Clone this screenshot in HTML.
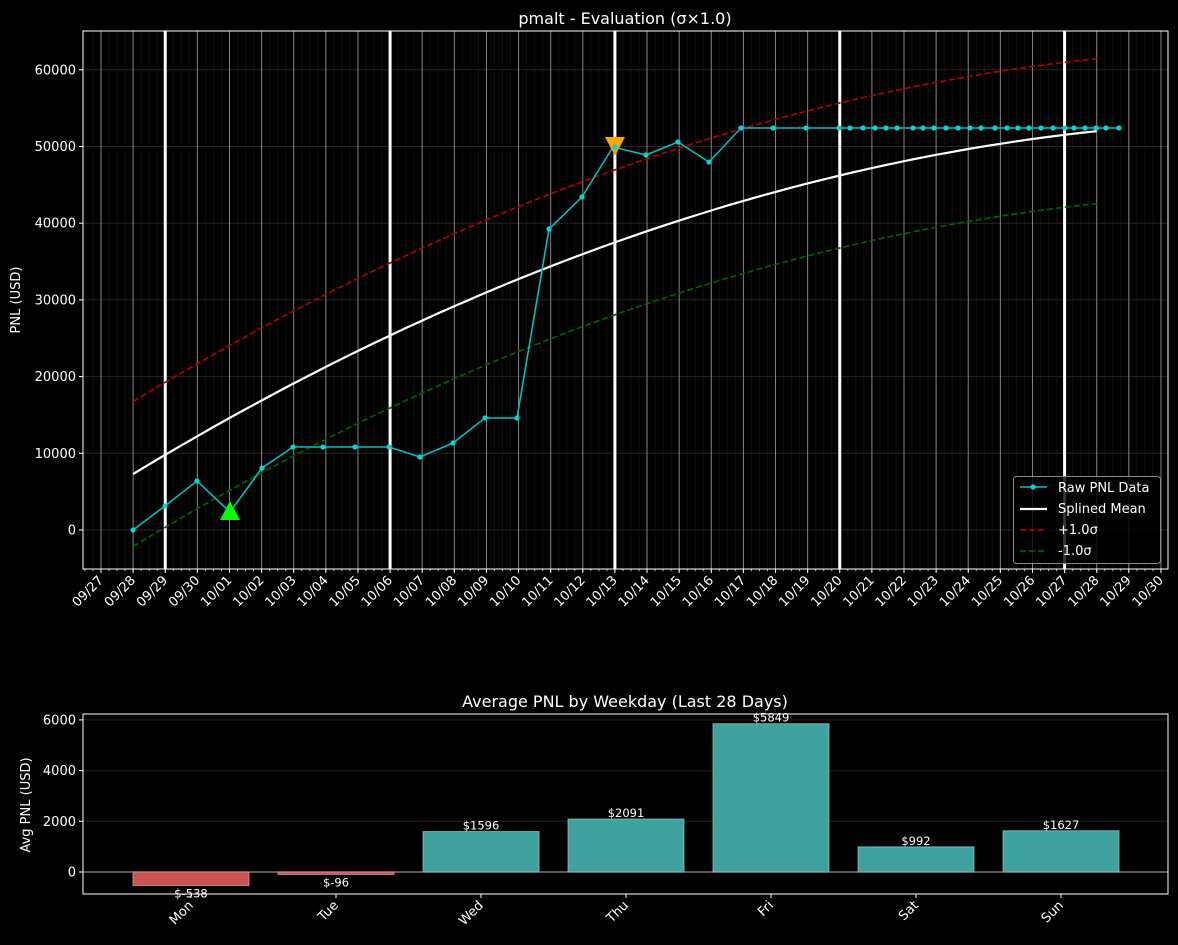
<!DOCTYPE html>
<html><head><meta charset="utf-8"><style>
html,body{margin:0;padding:0;background:#000;}
svg{display:block;font-family:"DejaVu Sans","Liberation Sans",sans-serif;}
</style></head><body>
<svg id="s" width="1178" height="945" viewBox="0 0 1178 945" xmlns="http://www.w3.org/2000/svg">
<rect width="1178" height="945" fill="#000"/>
<g id="top"></g>
<g id="bot"></g>
</svg>
<script>
const NS="http://www.w3.org/2000/svg";
function el(p,tag,a,txt){const e=document.createElementNS(NS,tag);for(const k in a)e.setAttribute(k,a[k]);if(txt!==undefined)e.textContent=txt;p.appendChild(e);return e;}
const T=document.getElementById('top');
const L=83,R=1168,TOP=31,BOT=569;
const X=d=>101+d*32.12;
const Y=v=>530-v*0.00767;
for(let d=-0.5;d<=33.5;d+=0.25){const x=X(d);if(x<L||x>R)continue;el(T,'line',{x1:x,x2:x,y1:TOP,y2:BOT,stroke:'#0f0f0f','stroke-width':1});}
for(let v=0;v<=60000;v+=10000){el(T,'line',{x1:L,x2:R,y1:Y(v),y2:Y(v),stroke:'#262626','stroke-width':1});}
for(let d=0;d<=33;d++){const x=X(d);el(T,'line',{x1:x,x2:x,y1:TOP,y2:BOT,stroke:'#aaa','stroke-width':1,opacity:0.75});}
[2,9,16,23,30].forEach(d=>{const x=X(d);el(T,'line',{x1:x,x2:x,y1:TOP,y2:BOT,stroke:'#fff','stroke-width':3});});
const m=t=>7300+2537*t-34.9*t*t;
let pm='',pp='',pn='';
for(let t=0;t<=30;t+=0.5){const x=X(t+1);pm+=(t?'L':'M')+x.toFixed(1)+','+Y(m(t)).toFixed(1);pp+=(t?'L':'M')+x.toFixed(1)+','+Y(m(t)+9450).toFixed(1);pn+=(t?'L':'M')+x.toFixed(1)+','+Y(m(t)-9450).toFixed(1);}
el(T,'path',{d:pp,fill:'none',stroke:'#b00000','stroke-width':1.7,'stroke-dasharray':'6,3'});
el(T,'path',{d:pn,fill:'none',stroke:'#006000','stroke-width':1.7,'stroke-dasharray':'6,3'});
el(T,'path',{d:pm,fill:'none',stroke:'#fff','stroke-width':2.2});
const pts=[[133,530],[165,506],[197,481],[230,512],[262,468],[293,447],[323,447],[355,447],[389,447],[420,457],[453,443],[485,418],[517,418],[549,229],[582,197],[613,147],[646,155],[678,142],[709,162],[741,128],[773,128],[806,128],[839,128],[850,128],[863,128],[875,128],[886,128],[897,128],[913,128],[923,128],[934,128],[946,128],[958,128],[970,128],[981,128],[995,128],[1007,128],[1018,128],[1029,128],[1041,128],[1053,128],[1065,128],[1074,128],[1085,128],[1096,128],[1106,128],[1119,128]];
el(T,'polyline',{points:pts.map(p=>p.join(',')).join(' '),fill:'none',stroke:'#00c0c0','stroke-width':1.6});
pts.forEach(p=>el(T,'circle',{cx:p[0],cy:p[1],r:2.6,fill:'#00d8d8'}));
el(T,'polygon',{points:'230,501 220,520 240,520',fill:'#00ff00'});
el(T,'polygon',{points:'605,137 625,137 615,156',fill:'#ffa500'});
el(T,'circle',{cx:615,cy:147,r:2.6,fill:'#00d8d8'});
el(T,'rect',{x:L,y:TOP,width:R-L,height:BOT-TOP,fill:'none',stroke:'#fff','stroke-width':1});
for(let v=0;v<=60000;v+=10000){const y=Y(v);el(T,'line',{x1:L-4,x2:L,y1:y,y2:y,stroke:'#fff'});el(T,'text',{x:L-7,y:y+4.5,'text-anchor':'end','font-size':13,fill:'#fff'},v);}
el(T,'text',{x:20,y:300,'font-size':13,fill:'#fff','text-anchor':'middle',transform:'rotate(-90 20 300)'},'PNL (USD)');
el(T,'text',{x:625,y:24,'font-size':16,fill:'#fff','text-anchor':'middle'},'pmalt - Evaluation (σ×1.0)');
const lbl=['09/27','09/28','09/29','09/30'];for(let i=1;i<=30;i++)lbl.push('10/'+String(i).padStart(2,'0'));
for(let d=-0.75;d<=33.5;d+=0.25){const x=X(d);if(x<L||x>R)continue;el(T,'line',{x1:x,x2:x,y1:BOT,y2:BOT+2,stroke:'#ccc'});}
lbl.forEach((s,d)=>{const x=X(d);el(T,'line',{x1:x,x2:x,y1:BOT,y2:BOT+4,stroke:'#fff'});el(T,'text',{x:x+3,y:BOT+12,'font-size':13,fill:'#fff','text-anchor':'end',transform:`rotate(-45 ${x+3} ${BOT+12})`},s);});
el(T,'rect',{x:1013.5,y:476.5,width:147,height:87,rx:3,fill:'#000','fill-opacity':0.8,stroke:'#888'});
el(T,'line',{x1:1020,x2:1047,y1:487,y2:487,stroke:'#00c8c8','stroke-width':1.5});el(T,'circle',{cx:1033,cy:487,r:2.6,fill:'#00d8d8'});
el(T,'line',{x1:1020,x2:1047,y1:509,y2:509,stroke:'#fff','stroke-width':2.2});
el(T,'line',{x1:1020,x2:1047,y1:530,y2:530,stroke:'#b00000','stroke-width':1.7,'stroke-dasharray':'6,3'});
el(T,'line',{x1:1020,x2:1047,y1:551,y2:551,stroke:'#006000','stroke-width':1.7,'stroke-dasharray':'6,3'});
[['Raw PNL Data',492],['Splined Mean',513],['+1.0σ',534],['-1.0σ',555]].forEach(a=>el(T,'text',{x:1058,y:a[1],'font-size':13,fill:'#fff'},a[0]));

const B=document.getElementById('bot');
const BT=714,BB=894,YB=v=>872-v*0.02535;
for(let v=0;v<=6000;v+=2000)el(B,'line',{x1:L,x2:R,y1:YB(v),y2:YB(v),stroke:'#161616','stroke-width':1.5});
el(B,'line',{x1:L,x2:R,y1:872,y2:872,stroke:'#888','stroke-width':1.2});
const days=['Mon','Tue','Wed','Thu','Fri','Sat','Sun'],vals=[-538,-96,1596,2091,5849,992,1627];
days.forEach((d,i)=>{const c=191+i*145,v=vals[i];const y1=YB(Math.max(v,0)),y2=YB(Math.min(v,0));
 el(B,'rect',{x:c-58,y:y1,width:116,height:Math.max(y2-y1,1),fill:v<0?'#c85454':'#40a29e',stroke:v<0?'#e8a0a0':'#9cc','stroke-width':1,'stroke-opacity':0.7});
 const ty=v<0?y2+12:y1-2;
 el(B,'text',{x:c,y:ty,'font-size':11.5,fill:'#fff','text-anchor':'middle'},'$'+v);
 el(B,'line',{x1:c,x2:c,y1:BB,y2:BB+4,stroke:'#fff'});
 el(B,'text',{x:c+3,y:BB+12,'font-size':13,fill:'#fff','text-anchor':'end',transform:`rotate(-45 ${c+3} ${BB+12})`},d);
});
el(B,'rect',{x:L,y:BT,width:R-L,height:BB-BT,fill:'none',stroke:'#fff','stroke-width':1});
for(let v=0;v<=6000;v+=2000){const y=YB(v);el(B,'line',{x1:L-4,x2:L,y1:y,y2:y,stroke:'#fff'});el(B,'text',{x:L-7,y:y+4.5,'text-anchor':'end','font-size':13,fill:'#fff'},v);}
el(B,'text',{x:30,y:805,'font-size':13,fill:'#fff','text-anchor':'middle',transform:'rotate(-90 30 805)'},'Avg PNL (USD)');
el(B,'text',{x:625,y:707,'font-size':16,fill:'#fff','text-anchor':'middle'},'Average PNL by Weekday (Last 28 Days)');
</script>
</body></html>
